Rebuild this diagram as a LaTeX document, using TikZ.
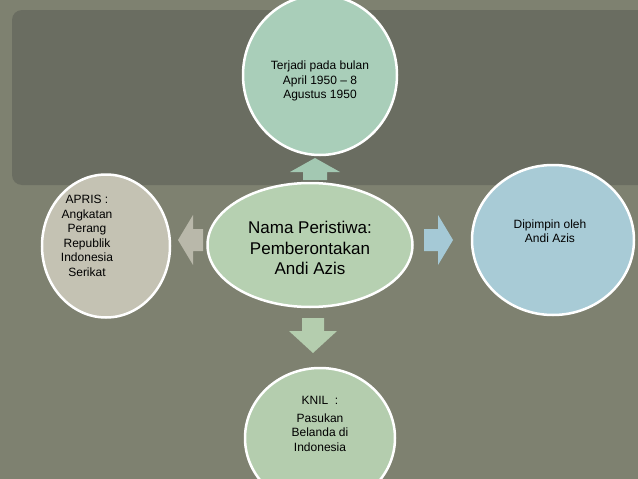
\documentclass[tikz,border=0pt]{standalone}
\usepackage{fontspec}
\setmainfont{Liberation Sans}
\usetikzlibrary{shapes.geometric}
\definecolor{bg}{HTML}{7E8170}
\definecolor{panel}{HTML}{6A6D61}
\definecolor{cgreen}{HTML}{B6D0B1}
\definecolor{mint}{HTML}{A9CEB9}
\definecolor{cblue}{HTML}{A8CBD6}
\definecolor{cgray}{HTML}{C4C2B3}
\definecolor{agreen}{HTML}{A3C8B2}
\definecolor{ablue}{HTML}{A5C9D6}
\definecolor{adown}{HTML}{B4CDAE}
\definecolor{agray}{HTML}{B9B8AA}
\tikzset{bub/.style={ellipse,draw=white,line width=2.5pt,inner sep=0pt,outer sep=0pt},
 lbl/.style={align=center,font=\fontsize{12}{14.5}\selectfont}}
\begin{document}
\begin{tikzpicture}[x=1pt,y=-1pt]
\fill[bg] (0,0) rectangle (638,479);
\useasboundingbox (0,0) rectangle (638,479);
\fill[panel] (640,10) -- (22,10) arc[start angle=270,end angle=180,radius=10] -- (12,175) arc[start angle=180,end angle=90,radius=10] -- (640,185) -- cycle;
% arrows
\fill[agreen] (303,180) -- (303,172) -- (290,172) -- (315,158) -- (340,172) -- (327,172) -- (327,180) -- cycle;
\fill[ablue] (424,229) -- (438,229) -- (438,215) -- (453,240) -- (438,265) -- (438,251) -- (424,251) -- cycle;
\fill[adown] (302,318) -- (324,318) -- (324,331) -- (337,331) -- (313,353) -- (289,331) -- (302,331) -- cycle;
\fill[agray] (203,229) -- (193,229) -- (193,215) -- (178,240) -- (193,265) -- (193,251) -- (203,251) -- cycle;
\node[bub,fill=mint,minimum width=154,minimum height=160] (top) at (320,75) {};
\node[lbl] at (320,81) {Terjadi pada bulan\\April 1950 – 8\\Agustus 1950};
\node[bub,fill=cblue,minimum width=162,minimum height=150] (right) at (553,240) {};
\node[lbl] at (550,231) {Dipimpin oleh\\Andi Azis};
\node[bub,fill=cgray,minimum width=128,minimum height=143] (left) at (106,246) {};
\node[lbl] at (87,236) {APRIS :\\Angkatan\\Perang\\Republik\\Indonesia\\Serikat};
\node[bub,fill=adown,minimum width=150,minimum height=140] (bottom) at (320,438) {};
\node[lbl] at (320,424) {KNIL\ \ :\\[3pt]Pasukan\\Belanda di\\Indonesia};
\node[bub,fill=cgreen,minimum width=205,minimum height=124] (center) at (310,245) {};
\node[align=center,font=\fontsize{17}{20.5}\selectfont] at (310,248) {Nama Peristiwa:\\Pemberontakan\\Andi Azis};
\end{tikzpicture}
\end{document}
